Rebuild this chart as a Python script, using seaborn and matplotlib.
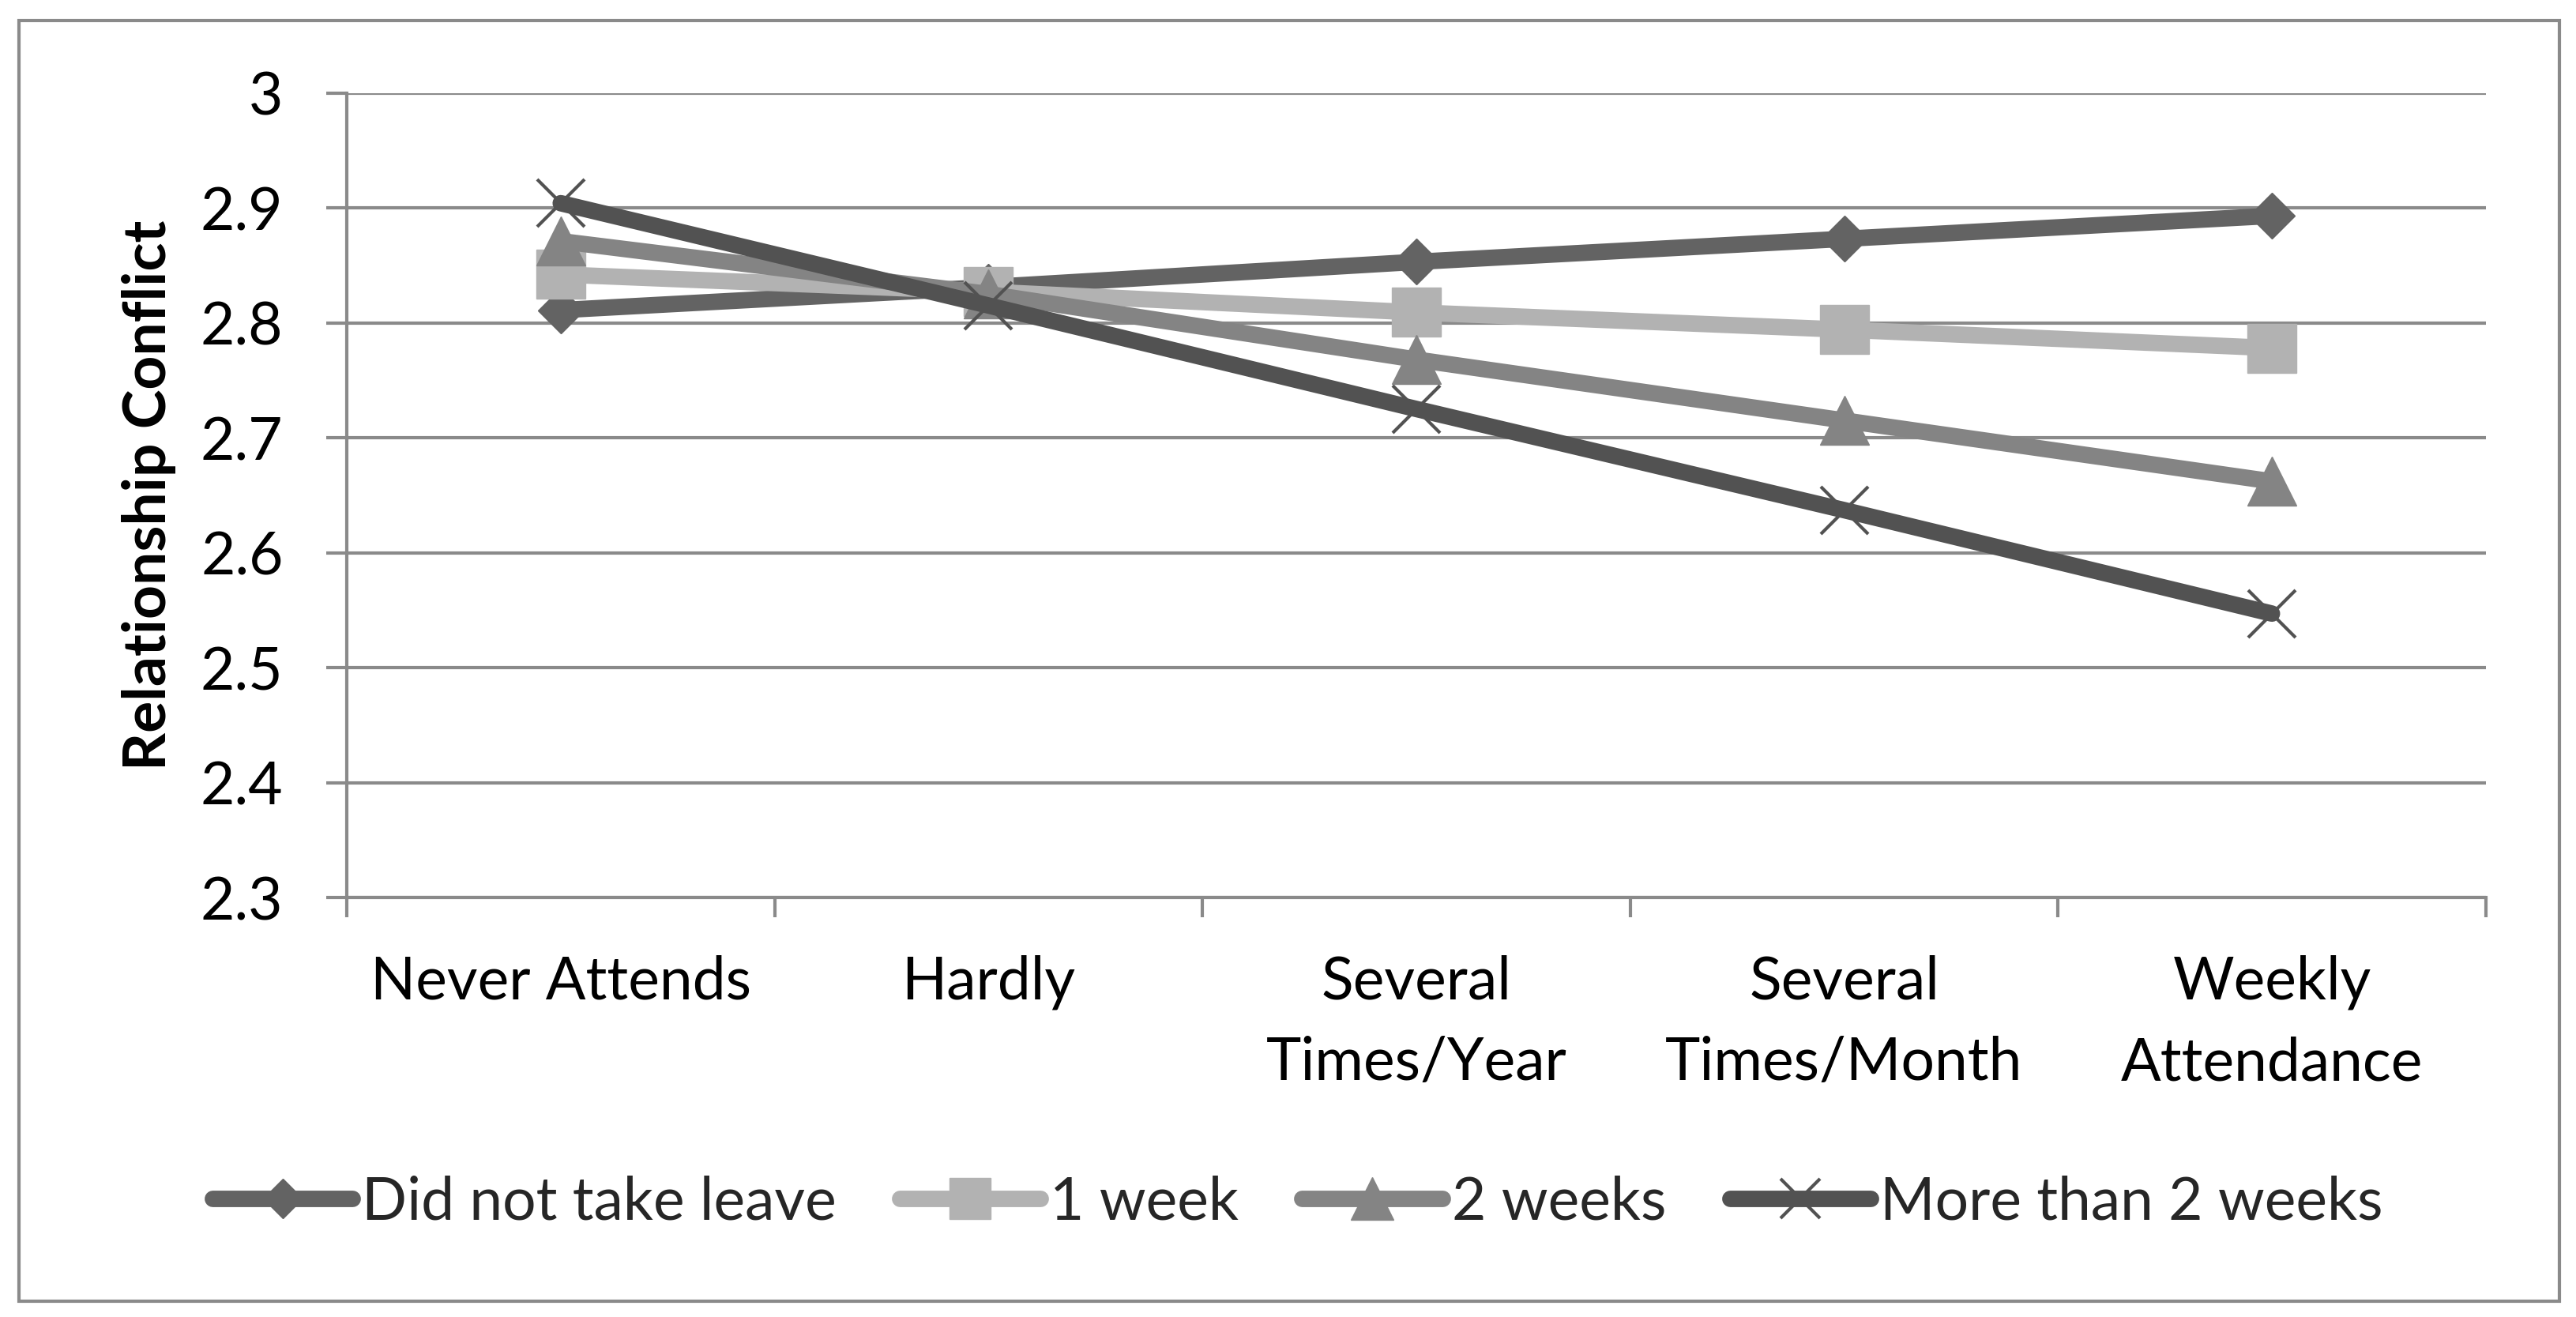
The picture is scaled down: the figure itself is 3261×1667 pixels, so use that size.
import seaborn as sns
import pandas as pd
import numpy as np
import matplotlib.pyplot as plt
from matplotlib.patches import Rectangle

#----- Data -----
attendance = ["Never Attends", "Hardly", "Several\nTimes/Year",
              "Several\nTimes/Month", "Weekly\nAttendance"]
leave_groups = ["Did not take leave", "1 week", "2 weeks", "More than 2 weeks"]
no_leave = [2.811, 2.831, 2.853, 2.873, 2.893]
one_week = [2.842, 2.827, 2.809, 2.794, 2.778]
two_weeks = [2.871, 2.825, 2.768, 2.715, 2.662]
more_than_two = [2.904, 2.815, 2.725, 2.637, 2.547]
y_ticks = [2.3, 2.4, 2.5, 2.6, 2.7, 2.8, 2.9, 3.0]
y_tick_labels = ["2.3", "2.4", "2.5", "2.6", "2.7", "2.8", "2.9", "3"]

#----- Style -----
colors = ["#636363", "#b2b2b2", "#848484", "#525252"]
markers = ["D", "s", "^", "x"]
marker_sizes = [30, 44, 45, 43]
grid_gray = "#8a8a8a"
fs = 54

sns.set_theme(style="white")
plt.rcParams['font.family'] = ['Lato', 'DejaVu Sans']

fig, ax = plt.subplots(figsize=(32.62, 16.67), dpi=100)
fig.subplots_adjust(left=0.1346, right=0.9647, top=0.9295, bottom=0.3185)

#----- Lines -----
series = [no_leave, one_week, two_weeks, more_than_two]
handles = []
for name, vals, col, mk, ms in zip(leave_groups, series, colors, markers, marker_sizes):
    sns.lineplot(x=attendance, y=vals, color=col, marker=mk, markersize=ms,
                 markerfacecolor=col, markeredgecolor=col,
                 markeredgewidth=3 if mk == "x" else 1,
                 linewidth=15, solid_capstyle="round", solid_joinstyle="round",
                 sort=False, errorbar=None, ax=ax, zorder=3)
    line = ax.lines[-1]
    line.set_label(name)
    handles.append(line)

if ax.get_legend() is not None:
    ax.get_legend().remove()

#----- Axes -----
ax.set_xlim(-0.5, 4.5)
ax.set_ylim(2.3, 3.0)
ax.set_yticks(y_ticks)
ax.set_yticklabels(y_tick_labels, fontsize=fs, color="black")
ax.set_xticks(range(len(attendance)))
ax.set_xticklabels(attendance, fontsize=fs, color="black", linespacing=1.6)
ax.set_xticks(np.arange(-0.5, len(attendance), 1), minor=True)

ax.yaxis.grid(True, color=grid_gray, linewidth=3)
ax.xaxis.grid(False)
ax.set_axisbelow(True)
for side in ["top", "right"]:
    ax.spines[side].set_visible(False)
for side in ["left", "bottom"]:
    ax.spines[side].set_color(grid_gray)
    ax.spines[side].set_linewidth(3)

ax.tick_params(axis="y", which="major", direction="out", length=19, width=3,
               color=grid_gray, pad=39, left=True)
ax.tick_params(axis="x", which="major", length=0, pad=52, bottom=True)
ax.tick_params(axis="x", which="minor", direction="out", length=18, width=3,
               color=grid_gray, bottom=True)

ax.set_xlabel("")
ax.set_ylabel("Relationship Conflict", fontsize=fs, fontweight="bold", color="black")
ax.yaxis.set_label_coords(-0.0798, 0.5)

#----- Legend -----
fig.legend(handles=handles, labels=leave_groups, loc="center",
           bbox_to_anchor=(0.5035, 0.087), ncol=4, frameon=False, fontsize=fs,
           handlelength=2.37, handletextpad=0.16, columnspacing=1.07,
           borderaxespad=0, markerscale=0.85)

#----- Outer border -----
fig.add_artist(Rectangle((0.0074, 0.012), 0.9859, 0.9724, transform=fig.transFigure,
                         fill=False, edgecolor=grid_gray, linewidth=3))

fig.savefig("out.png", dpi=100)
